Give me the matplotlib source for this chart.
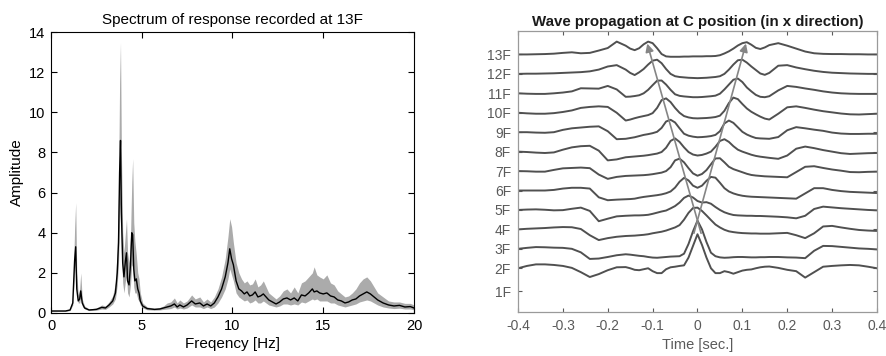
import numpy as np
import matplotlib
matplotlib.use('Agg')
import matplotlib.pyplot as plt

plt.rcParams['font.family'] = ['Liberation Sans', 'DejaVu Sans']

# ---------------- Left panel data: spectrum at 13F ----------------
freq = [0.00, 0.80, 1.05, 1.20, 1.30, 1.36, 1.42, 1.50, 1.58, 1.64, 1.72, 1.85, 2.10, 2.50, 2.80, 3.00,
        3.20, 3.40, 3.55, 3.65, 3.72, 3.78, 3.83, 3.88, 3.95, 4.02, 4.10, 4.16, 4.22, 4.30, 4.38, 4.45,
        4.50, 4.56, 4.62, 4.70, 4.78, 4.85, 4.92, 5.05, 5.30, 5.70, 6.00, 6.20, 6.40, 6.60, 6.80, 6.95,
        7.10, 7.30, 7.50, 7.75, 7.95, 8.20, 8.40, 8.60, 8.80, 9.00, 9.20, 9.40, 9.60, 9.75, 9.85, 9.95,
        10.05, 10.20, 10.35, 10.50, 10.65, 10.80, 10.95, 11.10, 11.25, 11.40, 11.55, 11.70, 11.85, 12.00,
        12.20, 12.40, 12.60, 12.80, 13.00, 13.20, 13.40, 13.60, 13.80, 14.00, 14.20, 14.40, 14.50, 14.65,
        14.80, 15.00, 15.20, 15.40, 15.60, 15.80, 16.00, 16.20, 16.40, 16.60, 16.80, 17.00, 17.20, 17.40,
        17.60, 17.80, 18.00, 18.30, 18.60, 18.90, 19.20, 19.50, 19.80, 20.00]
amp_mean = [0.10, 0.10, 0.15, 0.50, 2.60, 3.30, 1.20, 0.60, 0.70, 1.10, 0.50, 0.25, 0.15, 0.18, 0.28, 0.25,
            0.40, 0.60, 1.00, 2.00, 3.50, 7.00, 8.60, 5.00, 2.50, 1.80, 2.60, 3.00, 1.60, 1.40, 2.40, 4.00,
            3.90, 2.20, 1.60, 1.70, 1.20, 1.00, 0.60, 0.35, 0.22, 0.18, 0.20, 0.25, 0.30, 0.35, 0.45, 0.30,
            0.40, 0.30, 0.40, 0.60, 0.45, 0.50, 0.35, 0.45, 0.35, 0.50, 0.80, 1.20, 1.80, 2.50, 3.20, 2.70,
            2.40, 1.60, 1.20, 1.10, 0.95, 1.05, 0.85, 0.90, 1.05, 0.80, 0.85, 0.95, 0.80, 0.65,
            0.55, 0.45, 0.55, 0.70, 0.75, 0.65, 0.75, 0.60, 0.90, 0.85, 1.00, 1.20, 1.05, 1.10,
            1.00, 0.95, 1.00, 0.85, 0.80, 0.65, 0.60, 0.50, 0.55, 0.65, 0.70, 0.85, 0.95, 1.05,
            0.95, 0.80, 0.65, 0.50, 0.40, 0.35, 0.38, 0.30, 0.32, 0.25]
amp_low = [0.08, 0.08, 0.12, 0.40, 2.00, 2.50, 0.90, 0.50, 0.50, 0.80, 0.35, 0.20, 0.12, 0.14, 0.20, 0.18,
           0.30, 0.45, 0.70, 1.40, 2.50, 4.50, 5.50, 3.00, 1.50, 1.00, 1.60, 1.80, 1.00, 0.80, 1.40, 2.40,
           2.30, 1.30, 1.00, 1.00, 0.70, 0.60, 0.40, 0.25, 0.16, 0.14, 0.15, 0.18, 0.20, 0.22, 0.30, 0.20,
           0.25, 0.20, 0.25, 0.40, 0.30, 0.30, 0.22, 0.30, 0.22, 0.30, 0.50, 0.80, 1.20, 1.70, 2.20, 1.90,
           1.60, 1.00, 0.80, 0.70, 0.60, 0.65, 0.50, 0.55, 0.65, 0.50, 0.50, 0.60, 0.50, 0.40,
           0.35, 0.30, 0.35, 0.45, 0.45, 0.40, 0.45, 0.40, 0.55, 0.50, 0.60, 0.70, 0.65, 0.70,
           0.60, 0.60, 0.60, 0.50, 0.50, 0.40, 0.35, 0.30, 0.35, 0.40, 0.45, 0.55, 0.60, 0.65,
           0.60, 0.50, 0.40, 0.30, 0.25, 0.22, 0.24, 0.20, 0.20, 0.16]
amp_high = [0.12, 0.12, 0.20, 0.70, 4.20, 5.50, 2.00, 0.90, 1.20, 2.00, 0.70, 0.35, 0.20, 0.25, 0.40, 0.35,
            0.55, 0.85, 1.50, 3.20, 6.00, 11.50, 13.50, 8.00, 4.00, 3.00, 4.00, 4.70, 3.00, 2.50, 3.80, 6.50,
            7.70, 4.50, 3.60, 2.90, 2.00, 1.70, 1.00, 0.50, 0.30, 0.24, 0.28, 0.35, 0.50, 0.55, 0.75, 0.50,
            0.65, 0.50, 0.60, 0.90, 0.70, 0.80, 0.55, 0.70, 0.55, 0.80, 1.20, 1.80, 2.70, 3.80, 4.70, 4.30,
            3.50, 2.50, 2.00, 1.70, 1.50, 1.60, 1.40, 1.45, 1.70, 1.30, 1.40, 1.60, 1.30, 1.00,
            0.85, 0.70, 0.85, 1.10, 1.20, 1.00, 1.30, 1.00, 1.50, 1.60, 1.80, 2.00, 2.30, 1.90,
            1.80, 1.70, 1.90, 1.50, 1.40, 1.10, 0.95, 0.80, 0.85, 1.00, 1.20, 1.50, 1.70, 1.80,
            1.60, 1.30, 1.00, 0.80, 0.60, 0.55, 0.55, 0.48, 0.48, 0.40]

# ---------------- Right panel data: wave propagation ----------------
floor_labels = ['1F', '2F', '3F', '4F', '5F', '6F', '7F', '8F', '9F', '10F', '11F', '12F', '13F']
floor_levels = [1.08, 2.25, 3.25, 4.25, 5.25, 6.25, 7.25, 8.25, 9.25, 10.25, 11.25, 12.25, 13.25]
time_s = np.round(np.concatenate([np.arange(-0.40, -0.155, 0.02),
                                  np.arange(-0.15, 0.155, 0.01),
                                  np.arange(0.16, 0.405, 0.02)]), 2)

wave_2F = [0.00, 0.12, 0.20, 0.20, 0.17, 0.12, 0.02, -0.20, -0.45, -0.30, -0.10, 0.05, 0.06,
           0.00, -0.08, -0.10, -0.05, 0.00, -0.15, -0.25, -0.25, -0.05, 0.05, 0.08, 0.12, 0.15, 0.55, 1.15,
           1.75, 1.20, 0.55, 0.00, -0.25, -0.25, -0.15, -0.20, -0.28, -0.20, -0.12, -0.08, -0.06, 0.00, 0.05, 0.08,
           0.09, 0.02, -0.08, -0.15, -0.48, -0.20, 0.08, 0.12, 0.15, 0.17, 0.15, 0.08, 0.00]
wave_3F = [0.00, 0.05, 0.09, 0.08, 0.06, 0.05, 0.00, -0.18, -0.52, -0.50, -0.42, -0.33, -0.28,
           -0.30, -0.33, -0.36, -0.38, -0.42, -0.45, -0.46, -0.44, -0.42, -0.40, -0.39, -0.38, -0.25, 0.25, 0.90,
           1.45, 1.00, 0.35, -0.20, -0.38, -0.44, -0.46, -0.45, -0.43, -0.42, -0.42, -0.43, -0.44, -0.44, -0.43, -0.43,
           -0.42, -0.42, -0.44, -0.45, -0.48, -0.10, 0.15, 0.14, 0.10, 0.06, 0.02, 0.00, -0.03]
wave_4F = [0.00, 0.03, 0.05, 0.07, 0.10, 0.12, 0.11, 0.02, -0.30, -0.55, -0.45, -0.38, -0.34,
           -0.33, -0.32, -0.30, -0.28, -0.25, -0.20, -0.16, -0.12, -0.06, 0.02, 0.10, 0.22, 0.50, 0.85, 1.10,
           1.12, 0.95, 0.72, 0.48, 0.25, 0.10, -0.02, -0.10, -0.14, -0.17, -0.19, -0.20, -0.21, -0.21, -0.22, -0.22,
           -0.22, -0.20, -0.18, -0.30, -0.45, -0.20, 0.15, 0.18, 0.10, 0.03, -0.03, -0.06, -0.08]
wave_5F = [0.00, 0.02, 0.03, 0.01, -0.02, -0.01, 0.06, 0.12, -0.05, -0.58, -0.45, -0.33, -0.30,
           -0.29, -0.28, -0.28, -0.27, -0.25, -0.20, -0.14, -0.08, -0.03, 0.08, 0.20, 0.38, 0.62, 0.74, 0.64,
           0.46, 0.38, 0.40, 0.32, 0.15, 0.00, -0.12, -0.20, -0.26, -0.28, -0.29, -0.30, -0.30, -0.31, -0.31, -0.32,
           -0.33, -0.35, -0.38, -0.43, -0.30, 0.05, 0.17, 0.13, 0.09, 0.06, 0.03, 0.00, -0.02]
wave_6F = [0.00, 0.00, 0.00, 0.00, 0.03, 0.10, 0.14, 0.14, 0.10, -0.35, -0.50, -0.47, -0.45,
           -0.44, -0.42, -0.37, -0.33, -0.30, -0.27, -0.24, -0.20, -0.14, -0.05, 0.15, 0.45, 0.65, 0.52, 0.25,
           0.14, 0.25, 0.50, 0.70, 0.66, 0.40, 0.12, -0.05, -0.15, -0.22, -0.27, -0.30, -0.32, -0.33, -0.34, -0.35,
           -0.36, -0.38, -0.40, -0.42, -0.15, 0.12, 0.12, 0.03, -0.03, -0.07, -0.09, -0.11, -0.13]
wave_7F = [0.00, -0.01, -0.03, -0.03, 0.06, 0.14, 0.16, 0.18, 0.15, -0.18, -0.40, -0.30, -0.25,
           -0.24, -0.23, -0.22, -0.21, -0.19, -0.16, -0.12, -0.08, 0.00, 0.20, 0.55, 0.64, 0.45, 0.15, -0.12,
           -0.24, -0.15, 0.05, 0.35, 0.65, 0.66, 0.45, 0.22, 0.10, 0.02, -0.06, -0.14, -0.20, -0.23, -0.25, -0.27,
           -0.28, -0.30, -0.32, -0.05, 0.22, 0.25, 0.16, 0.08, 0.02, -0.05, -0.06, -0.04, -0.03]
wave_8F = [0.00, -0.02, -0.05, -0.07, -0.04, 0.10, 0.22, 0.28, 0.30, 0.05, -0.45, -0.40, -0.29,
           -0.27, -0.25, -0.23, -0.21, -0.18, -0.14, -0.10, -0.02, 0.20, 0.55, 0.68, 0.50, 0.22, -0.02, -0.15,
           -0.20, -0.17, -0.10, 0.00, 0.25, 0.55, 0.64, 0.50, 0.28, 0.10, 0.00, -0.08, -0.16, -0.22, -0.26, -0.29,
           -0.32, -0.37, -0.20, 0.15, 0.26, 0.18, 0.08, 0.00, -0.08, -0.12, -0.10, -0.08, -0.07]
wave_9F = [0.00, 0.00, -0.02, -0.03, 0.00, 0.12, 0.20, 0.24, 0.28, 0.30, 0.05, -0.36, -0.34,
           -0.30, -0.26, -0.20, -0.14, -0.10, -0.05, 0.02, 0.22, 0.55, 0.64, 0.50, 0.20, -0.08, -0.18, -0.23,
           -0.26, -0.25, -0.23, -0.20, -0.14, 0.05, 0.45, 0.60, 0.48, 0.25, 0.02, -0.12, -0.22, -0.30, -0.32, -0.33,
           -0.34, -0.25, 0.10, 0.26, 0.20, 0.13, 0.07, -0.02, -0.07, -0.09, -0.09, -0.08, -0.08]
wave_10F = [0.00, -0.03, -0.05, -0.05, -0.02, 0.04, 0.12, 0.25, 0.30, 0.33, 0.30, 0.00, -0.40,
            -0.35, -0.28, -0.22, -0.17, -0.12, -0.02, 0.25, 0.65, 0.74, 0.55, 0.25, 0.00, -0.17, -0.24, -0.28,
            -0.29, -0.28, -0.27, -0.25, -0.22, -0.15, 0.10, 0.50, 0.78, 0.70, 0.45, 0.22, 0.05, -0.08, -0.20, -0.30,
            -0.35, -0.05, 0.28, 0.33, 0.25, 0.16, 0.08, 0.02, -0.04, -0.08, -0.09, -0.07, -0.05]
wave_11F = [0.00, -0.02, -0.03, -0.03, 0.00, 0.04, 0.10, 0.26, 0.25, 0.24, 0.38, 0.20, -0.18,
            -0.17, -0.14, -0.10, 0.00, 0.18, 0.42, 0.65, 0.66, 0.45, 0.18, -0.05, -0.13, -0.16, -0.18, -0.20,
            -0.20, -0.19, -0.17, -0.15, -0.12, -0.02, 0.20, 0.45, 0.70, 0.76, 0.58, 0.30, 0.10, -0.08, -0.18, -0.20,
            -0.15, 0.15, 0.38, 0.33, 0.25, 0.18, 0.10, 0.04, 0.00, -0.02, -0.03, -0.03, -0.03]
wave_12F = [0.00, 0.01, 0.01, 0.02, 0.03, 0.05, 0.07, 0.09, 0.13, 0.22, 0.38, 0.45, 0.22,
            0.05, -0.06, 0.08, 0.25, 0.48, 0.68, 0.73, 0.55, 0.25, 0.00, -0.12, -0.16, -0.18, -0.20, -0.21,
            -0.22, -0.21, -0.20, -0.18, -0.16, -0.12, 0.00, 0.22, 0.48, 0.70, 0.73, 0.58, 0.38, 0.20, 0.02, -0.05,
            0.05, 0.42, 0.45, 0.33, 0.24, 0.16, 0.10, 0.06, 0.04, 0.02, 0.01, 0.00, 0.00]
wave_13F = [0.00, 0.00, 0.01, 0.02, 0.04, 0.08, 0.11, 0.06, 0.08, 0.20, 0.33, 0.66, 0.45,
            0.30, 0.22, 0.32, 0.52, 0.66, 0.58, 0.32, 0.02, -0.10, -0.12, -0.12, -0.12, -0.11, -0.11, -0.10,
            -0.10, -0.10, -0.09, -0.09, -0.08, -0.04, 0.05, 0.16, 0.30, 0.46, 0.58, 0.63, 0.50, 0.34, 0.28, 0.36,
            0.48, 0.58, 0.45, 0.30, 0.15, 0.06, 0.03, 0.02, 0.02, 0.01, 0.01, 0.00, 0.00]

waves = [wave_2F, wave_3F, wave_4F, wave_5F, wave_6F, wave_7F, wave_8F, wave_9F,
         wave_10F, wave_11F, wave_12F, wave_13F]

time_ticks = [-0.4, -0.3, -0.2, -0.1, 0.0, 0.1, 0.2, 0.3, 0.4]
time_tick_labels = ['-0.4', '-0.3', '-0.2', '-0.1', '0', '0.1', '0.2', '0.3', '0.4']

# arrows: (start time, start level) -> (end time, end level)
arrow_left = ((0.008, 4.05), (-0.112, 13.81))
arrow_right = ((-0.008, 4.05), (0.108, 13.81))

# ---------------- Figure ----------------
fig = plt.figure(figsize=(8.87, 3.56), dpi=100)

ax1 = fig.add_axes([0.0575, 0.1208, 0.4092, 0.789])
ax1.fill_between(freq, amp_low, amp_high, color='#ababab', lw=0)
ax1.plot(freq, amp_mean, color='black', lw=1.0)
ax1.set_xlim(0, 20)
ax1.set_ylim(0, 14)
ax1.set_xticks([0, 5, 10, 15, 20])
ax1.set_yticks([0, 2, 4, 6, 8, 10, 12, 14])
ax1.tick_params(direction='in', top=True, right=True, labelsize=10.5, length=4, width=0.8, pad=4)
for s in ax1.spines.values():
    s.set_linewidth(0.8)
ax1.set_title('Spectrum of response recorded at 13F', fontsize=11, pad=6)
ax1.set_xlabel('Freqency [Hz]', fontsize=11, labelpad=3)
ax1.set_ylabel('Amplitude', fontsize=11, labelpad=4)

ax2 = fig.add_axes([0.584, 0.1236, 0.4047, 0.789])
trace_color = '#505050'
for lvl, w in zip(floor_levels[1:], waves):
    ax2.plot(time_s, lvl + np.asarray(w), color=trace_color, lw=1.4, solid_capstyle='round')
for (x0, y0), (x1, y1) in (arrow_left, arrow_right):
    ax2.annotate('', xy=(x1, y1), xytext=(x0, y0),
                 arrowprops=dict(arrowstyle='-|>', color='#858585', lw=1.2,
                                 mutation_scale=12, shrinkA=0, shrinkB=0))
ax2.set_xlim(-0.4, 0.4)
ax2.set_ylim(0, 14.45)
ax2.set_xticks(time_ticks)
ax2.set_xticklabels(time_tick_labels)
ax2.set_yticks(floor_levels)
ax2.set_yticklabels(floor_labels)
ax2.tick_params(direction='in', top=True, right=True, labelsize=10, length=3,
                width=0.8, colors='#5a5a5a', pad=5)
for s in ax2.spines.values():
    s.set_color('#9a9a9a')
    s.set_linewidth(0.9)
ax2.set_title('Wave propagation at C position (in x direction)', fontsize=10.8,
              fontweight='bold', color='#1a1a1a', pad=4)
ax2.set_xlabel('Time [sec.]', fontsize=10.5, color='#5a5a5a', labelpad=4)

fig.savefig('out.png', dpi=100)
